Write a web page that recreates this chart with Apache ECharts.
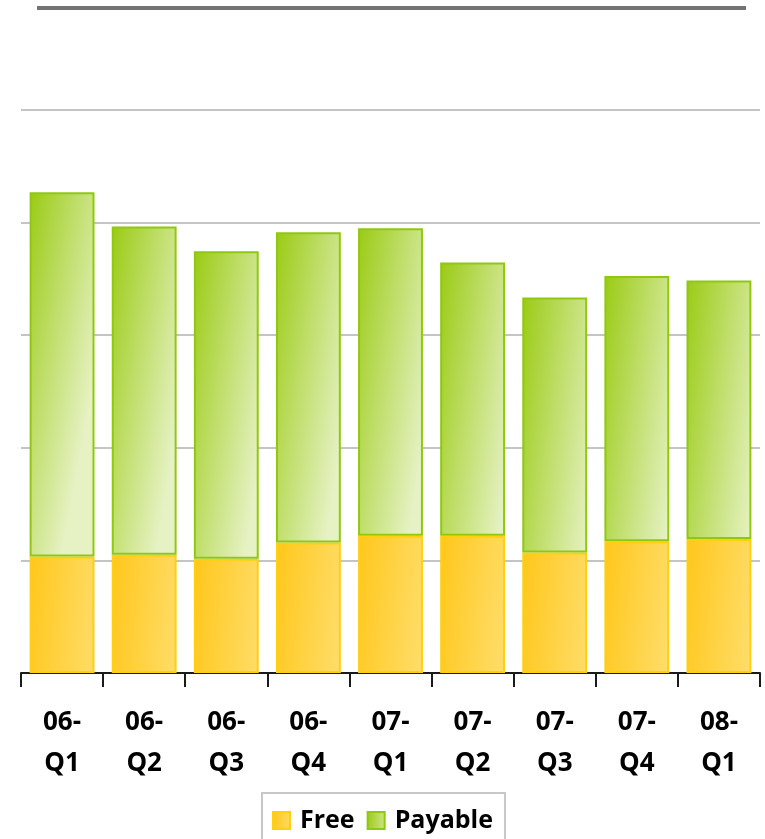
<!DOCTYPE html>
<html>
<head>
<meta charset="utf-8">
<title>Free vs Payable</title>
<script src="https://cdn.jsdelivr.net/npm/echarts@6/dist/echarts.min.js"></script>
<style>
    html, body {
        margin: 0;
        padding: 0;
        background: #fff;
    }

    #chart {
        width: 765px;
        height: 839px;
    }
</style>
</head>
<body>
<div id="chart"></div>
<script>
    const quarters = ['06-Q1', '06-Q2', '06-Q3', '06-Q4', '07-Q1', '07-Q2', '07-Q3', '07-Q4', '08-Q1']
    const free = [20.7, 21.0, 20.3, 23.2, 24.4, 24.4, 21.4, 23.4, 23.8]
    const payable = [64.7, 58.3, 54.6, 55.1, 54.6, 48.5, 45.3, 47.1, 45.9]

    const font = '"Open Sans", Lato, sans-serif'

    const yellowFill = new echarts.graphic.LinearGradient(0, 0, 1.6, 0.08, [
        {offset: 0, color: '#ffc71a'},
        {offset: 1, color: '#ffe588'}
    ])
    const greenFill = new echarts.graphic.LinearGradient(0, 0, 1.5, 0.05, [
        {offset: 0, color: '#9acb14'},
        {offset: 1, color: '#e6f2c4'}
    ])

    const chart = echarts.init(document.getElementById('chart'))
    chart.setOption({
        animation: false,
        grid: {
            left: 21,
            right: 5,
            top: 110,
            bottom: 166
        },
        graphic: [
            // dark rule at the top of the picture
            {
                type: 'rect',
                left: 37,
                top: 6,
                shape: {width: 709, height: 4},
                style: {fill: '#737373'}
            }
        ],
        legend: {
            left: 'center',
            top: 793,
            padding: [15, 12, 14, 10],
            borderColor: '#c8c8c8',
            borderWidth: 2,
            icon: 'rect',
            itemWidth: 17,
            itemHeight: 17,
            itemGap: 12,
            textStyle: {
                fontFamily: font,
                fontWeight: 'bold',
                fontSize: 25,
                color: '#000',
                padding: [0, 0, 0, 5]
            },
            data: ['Free', 'Payable']
        },
        xAxis: {
            type: 'category',
            data: quarters,
            axisLine: {lineStyle: {color: '#1a1a1a', width: 2}},
            axisTick: {show: true, length: 14, lineStyle: {color: '#1a1a1a', width: 2}},
            axisLabel: {
                interval: 0,
                margin: 29,
                fontFamily: font,
                fontWeight: 'bold',
                fontSize: 26,
                lineHeight: 41,
                color: '#000',
                formatter: v => v.replace('-', '-\n')
            }
        },
        yAxis: {
            type: 'value',
            min: 0,
            max: 100,
            interval: 20,
            axisLabel: {show: false},
            axisLine: {show: false},
            axisTick: {show: false},
            splitLine: {lineStyle: {color: '#c4c4c4', width: 2}}
        },
        series: [
            {
                name: 'Free',
                type: 'bar',
                stack: 'total',
                barCategoryGap: '21%',
                data: free,
                itemStyle: {
                    color: yellowFill,
                    borderColor: '#ffcf10',
                    borderWidth: 2
                }
            },
            {
                name: 'Payable',
                type: 'bar',
                stack: 'total',
                data: payable,
                itemStyle: {
                    color: greenFill,
                    borderColor: '#90c810',
                    borderWidth: 2
                }
            }
        ]
    })
</script>
</body>
</html>
